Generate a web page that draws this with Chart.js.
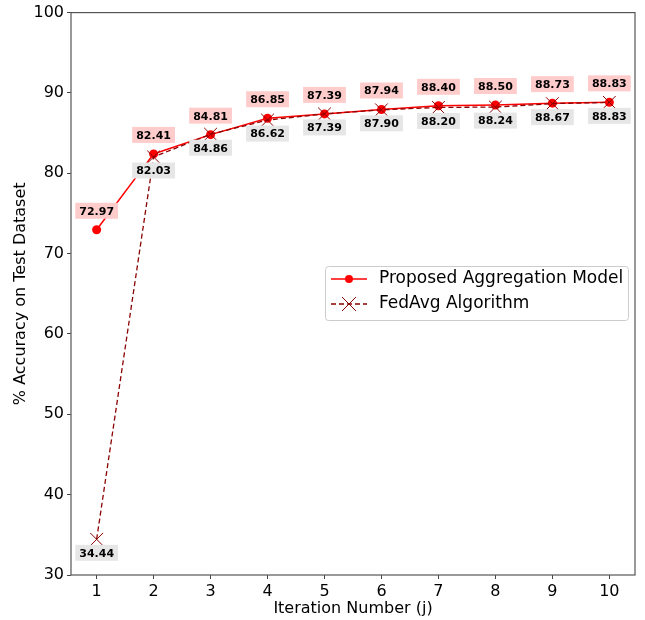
<!DOCTYPE html>
<html>
<head>
<meta charset="utf-8">
<script src="https://cdn.jsdelivr.net/npm/chart.js@4.4.0/dist/chart.umd.min.js"></script>
<style>
  body { margin: 0; background: #fff; }
  #myChart { display: block; }
</style>
</head>
<body>
<canvas id="myChart" width="645" height="620"></canvas>
<script>
// iteration numbers along the x-axis
var iterations = [1, 2, 3, 4, 5, 6, 7, 8, 9, 10];
// test accuracy per iteration
var proposed = [72.97, 82.41, 84.81, 86.85, 87.39, 87.94, 88.40, 88.50, 88.73, 88.83];
var fedAvg = [34.44, 82.03, 84.86, 86.62, 87.39, 87.90, 88.20, 88.24, 88.67, 88.83];
var yTicks = [30, 40, 50, 60, 70, 80, 90, 100];

var FONT = "'DejaVu Sans', sans-serif";

function toPoints(vals) {
  return vals.map(function (v, i) { return { x: iterations[i], y: v }; });
}

// value boxes: pink above the proposed line, grey below FedAvg
var valueLabels = {
  id: 'valueLabels',
  afterDatasetsDraw: function (chart) {
    var c = chart.ctx;
    c.save();
    c.font = 'bold 11px ' + FONT;
    c.textAlign = 'center';
    c.textBaseline = 'middle';
    chart.data.datasets.forEach(function (ds, di) {
      var meta = chart.getDatasetMeta(di);
      meta.data.forEach(function (pt, i) {
        var txt = ds.data[i].y.toFixed(2);
        var w = c.measureText(txt).width + 8;
        var h = 16;
        var cy = ds.labelAbove ? pt.y - 19 : pt.y + 13.5;
        c.fillStyle = ds.labelBg;
        c.fillRect(pt.x - w / 2, cy - h / 2, w, h);
        c.fillStyle = '#000';
        c.fillText(txt, pt.x, cy + 1);
      });
    });
    c.restore();
  }
};

// frame round the plot and legend box inside it
var frameAndLegend = {
  id: 'frameAndLegend',
  afterDraw: function (chart) {
    var c = chart.ctx;
    var a = chart.chartArea;
    c.save();
    c.strokeStyle = '#555';
    c.lineWidth = 1.2;
    c.strokeRect(a.left, a.top, a.right - a.left, a.bottom - a.top);

    var lx = 325, ly = 266, lw = 303, lh = 54;
    c.fillStyle = 'rgba(255,255,255,0.8)';
    c.strokeStyle = '#cccccc';
    c.lineWidth = 1;
    c.beginPath();
    c.roundRect(lx + 0.5, ly + 0.5, lw, lh, 3);
    c.fill();
    c.stroke();

    // row 1: solid red with dot
    c.strokeStyle = '#ff0000';
    c.lineWidth = 1.5;
    c.setLineDash([]);
    c.beginPath(); c.moveTo(331, 279); c.lineTo(367, 279); c.stroke();
    c.fillStyle = '#ff0000';
    c.beginPath(); c.arc(349, 279, 4, 0, Math.PI * 2); c.fill();

    // row 2: dashed dark red with cross
    c.strokeStyle = '#8b0000';
    c.setLineDash([5, 3]);
    c.beginPath(); c.moveTo(331, 304); c.lineTo(367, 304); c.stroke();
    c.setLineDash([]);
    c.lineWidth = 1;
    c.beginPath();
    c.moveTo(342, 297); c.lineTo(356, 311);
    c.moveTo(356, 297); c.lineTo(342, 311);
    c.stroke();

    c.fillStyle = '#000';
    c.font = '17px ' + FONT;
    c.textAlign = 'left';
    c.textBaseline = 'middle';
    c.fillText('Proposed Aggregation Model', 379, 279);
    c.fillText('FedAvg Algorithm', 379, 304);
    c.restore();
  }
};

var ctx = document.getElementById('myChart');

var myChart = new Chart(ctx, {
  type: 'line',
  data: {
    datasets: [
      {
        data: toPoints(fedAvg),
        label: 'FedAvg Algorithm',
        borderColor: '#8b0000',
        borderWidth: 1.3,
        borderDash: [5, 3],
        pointStyle: 'cross',
        rotation: 45,
        pointRadius: 9,
        pointBorderWidth: 1,
        pointBorderColor: '#8b0000',
        fill: false,
        labelAbove: false,
        labelBg: '#e6e6e6'
      },
      {
        data: toPoints(proposed),
        label: 'Proposed Aggregation Model',
        borderColor: '#ff0000',
        backgroundColor: '#ff0000',
        borderWidth: 1.5,
        pointStyle: 'circle',
        pointRadius: 4.5,
        pointBorderWidth: 0,
        fill: false,
        labelAbove: true,
        labelBg: '#ffcccc'
      }
    ]
  },
  options: {
    responsive: false,
    animation: false,
    layout: { padding: { top: 12, right: 9, left: 0, bottom: 0 } },
    plugins: {
      legend: { display: false },
      tooltip: { enabled: false }
    },
    scales: {
      x: {
        type: 'linear',
        min: 0.55,
        max: 10.45,
        afterBuildTicks: function (s) { s.ticks = iterations.map(function (v) { return { value: v }; }); },
        afterFit: function (s) { s.height = 45; },
        grid: { drawOnChartArea: false, tickLength: 4, color: '#444' },
        border: { display: false },
        ticks: { font: { family: FONT, size: 16 }, color: '#000', padding: 3 },
        title: { display: true, text: 'Iteration Number (j)', font: { family: FONT, size: 16 }, color: '#000', padding: { top: 0, bottom: 2 } }
      },
      y: {
        min: 30,
        max: 100,
        afterBuildTicks: function (s) { s.ticks = yTicks.map(function (v) { return { value: v }; }); },
        afterFit: function (s) { s.width = 71; },
        grid: { drawOnChartArea: false, tickLength: 4, color: '#444' },
        border: { display: false },
        ticks: { font: { family: FONT, size: 16 }, color: '#000', padding: 3 },
        title: { display: true, text: '% Accuracy on Test Dataset', font: { family: FONT, size: 16 }, color: '#000', padding: { top: 11, bottom: 0 } }
      }
    }
  },
  plugins: [valueLabels, frameAndLegend]
});
</script>
</body>
</html>
